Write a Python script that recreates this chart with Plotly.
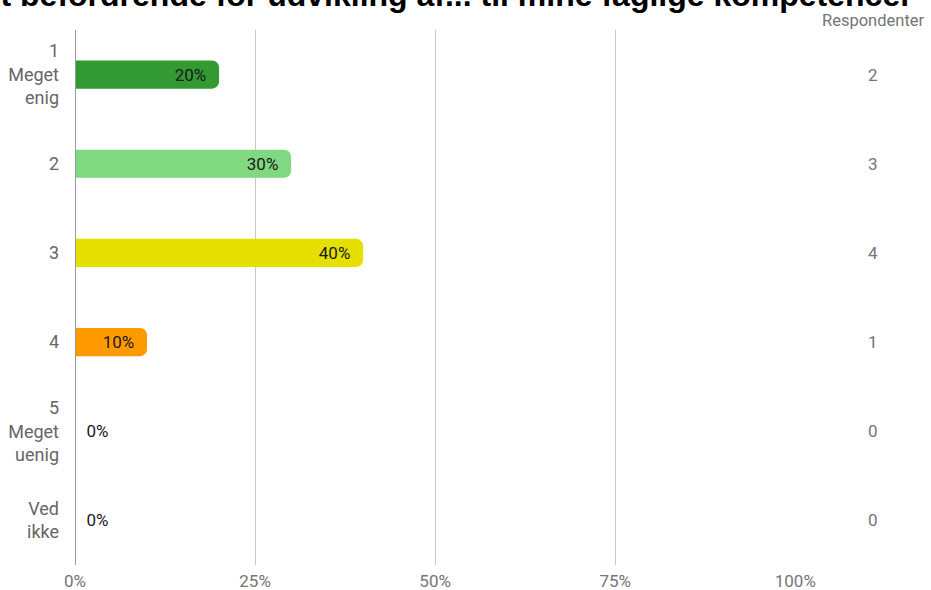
import plotly.graph_objects as go

categories = ["1<br>Meget<br>enig", "2", "3", "4", "5<br>Meget<br>uenig", "Ved<br>ikke"]
percentages = [20, 30, 40, 10, 0, 0]
respondents = [2, 3, 4, 1, 0, 0]
bar_colors = ["#339933", "#80d880", "#e6e000", "#ff9900", "#cccccc", "#cccccc"]
x_ticks = [0, 25, 50, 75, 100]
x_tick_labels = ["0%", "25%", "50%", "75%", "100%"]
title_text = "Opholdet har været befordrende for udvikling af... til mine faglige kompetencer"

W, H = 931, 590
ML, MR, MT, MB = 75, 135, 30, 25
plot_w = W - ML - MR

def px_to_paper_x(px):
    return (px - ML) / plot_w

pad = "\u00a0\u00a0"
labels = [f"{p}%{pad}" if p > 0 else f"\u00a0\u00a0{p}%" for p in percentages]
positions = ["inside" if p > 0 else "outside" for p in percentages]
txt_font = dict(family="Roboto", size=17, color="#1a1a1a")

fig = go.Figure()
fig.add_trace(go.Bar(
    x=percentages, y=categories, orientation="h",
    marker=dict(color=bar_colors, cornerradius=7, line=dict(width=0)),
    width=0.315,
    text=labels, textposition=positions, insidetextanchor="end",
    textfont=txt_font, outsidetextfont=txt_font, insidetextfont=txt_font,
    constraintext="none", cliponaxis=False,
    hoverinfo="skip",
))

annotations = [dict(
    x=px_to_paper_x(873), y=i, xref="paper", yref="y", text=str(r), showarrow=False,
    font=dict(family="Roboto", size=17, color="#757575"), xanchor="center", yanchor="middle",
) for i, r in enumerate(respondents)]
annotations.append(dict(
    x=px_to_paper_x(873), y=1.0, xref="paper", yref="paper", yshift=10, text="Respondenter",
    showarrow=False, font=dict(family="Roboto", size=16.5, color="#757575"),
    xanchor="center", yanchor="middle",
))
annotations.append(dict(
    x=px_to_paper_x(915), xref="paper", y=1.0, yref="paper", yshift=35,
    text="<b>" + title_text + "</b>",
    showarrow=False, font=dict(family="Liberation Sans, Arial", size=32, color="#000000"),
    xanchor="right", yanchor="middle",
))

fig.update_layout(
    width=W, height=H,
    margin=dict(l=ML, r=MR, t=MT, b=MB, autoexpand=False),
    paper_bgcolor="white", plot_bgcolor="white",
    showlegend=False,
    annotations=annotations,
    xaxis=dict(
        range=[0, 100.1], tickvals=x_ticks, ticktext=x_tick_labels,
        showgrid=True, gridcolor="#c8c8c8", gridwidth=1,
        zeroline=False, showline=False, ticks="", automargin=False,
        tickfont=dict(family="Roboto", size=17, color="#757575"),
        ticklabelstandoff=4,
    ),
    yaxis=dict(
        categoryorder="array", categoryarray=categories, autorange="reversed",
        showgrid=False, zeroline=False, showline=False, ticks="", automargin=False,
        tickfont=dict(family="Roboto", size=18, color="#666666"),
        ticklabelstandoff=15,
    ),
    shapes=[dict(type="line", xref="x", yref="paper", x0=0, x1=0, y0=0, y1=1,
                 line=dict(color="#999999", width=2))],
)

fig.write_html("out.html", config={"displayModeBar": False},
               post_script="document.body.style.margin='0';")
